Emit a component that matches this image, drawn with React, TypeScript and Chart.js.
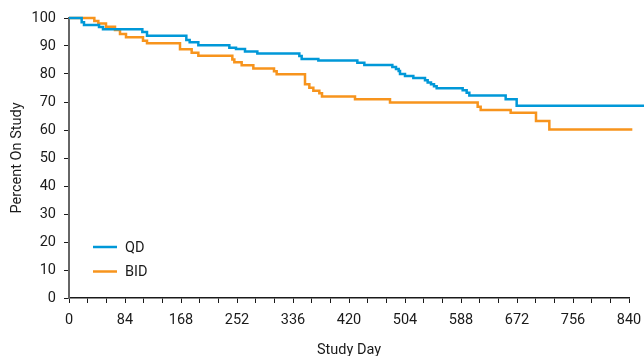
import React, { useEffect, useRef } from "react";
import { Chart, registerables } from "chart.js";

Chart.register(...registerables);

const qdDays = [0, 19, 22.5, 45, 51, 110, 117, 176, 181, 194, 240.5, 250.5, 264, 282.5, 345.5, 349, 374, 432.5, 443, 485, 490.5, 494.5, 496.5, 504, 516.5, 534, 538, 543, 547.5, 551.5, 590.5, 596.5, 600.5, 655, 671.5, 870];
const qdPct = [100, 98.5, 97.5, 96.8, 96, 95, 93.7, 92.1, 91.3, 90.3, 89.4, 88.9, 88, 87.3, 86.4, 85.4, 84.8, 84.0, 83.2, 82.5, 81.8, 81.1, 80, 79.3, 78.6, 77.8, 77, 76.3, 75.6, 74.9, 74.2, 73.3, 72.3, 71.0, 68.7, 68.7];

const bidDays = [0, 38, 44, 55.5, 69, 76.5, 85.5, 111, 117, 166.5, 184, 194, 245, 248, 259, 276.5, 307.5, 311.5, 354, 360.5, 366.5, 375.5, 379.5, 429, 481.5, 613, 617.5, 662.5, 700.5, 720.5, 845];
const bidPct = [100, 98.9, 98, 96.9, 95.7, 94.3, 93.1, 91.9, 91, 88.8, 87.6, 86.5, 85.2, 84.2, 83.1, 82, 81, 79.9, 76.3, 75.1, 74, 73.1, 72.0, 71, 69.8, 68.3, 67.1, 66.2, 63.2, 60.2, 60.2];

const seriesLabels = ["QD", "BID"];
const seriesColors = ["#0098D8", "#F7941D"];
const xTitle = "Study Day";
const yTitle = "Percent On Study";

const FONT = "Roboto, 'Liberation Sans', sans-serif";
const FSIZE = 14.5;
const TEXT = "#1a1a1a";

const legendPlugin = {
  id: "insideLegend",
  afterDatasetsDraw(chart: any) {
    const ctx = chart.ctx;
    const area = chart.chartArea;
    ctx.save();
    ctx.font = `${FSIZE}px ${FONT}`;
    ctx.textBaseline = "middle";
    ctx.textAlign = "left";
    chart.data.datasets.forEach((ds: any, i: number) => {
      const y = area.bottom - 51 + i * 24.5;
      const x0 = area.left + 24;
      ctx.strokeStyle = ds.borderColor;
      ctx.lineWidth = 2.5;
      ctx.beginPath();
      ctx.moveTo(x0, y);
      ctx.lineTo(x0 + 24, y);
      ctx.stroke();
      ctx.fillStyle = TEXT;
      ctx.fillText(ds.label, x0 + 32, y + 1);
    });
    ctx.restore();
  },
};

export default function App() {
  const ref = useRef<HTMLCanvasElement>(null);
  useEffect(() => {
    document.body.style.margin = "0";
    const datasets = [
      { label: seriesLabels[0], data: qdDays.map((d, i) => ({ x: d, y: qdPct[i] })), borderColor: seriesColors[0] },
      { label: seriesLabels[1], data: bidDays.map((d, i) => ({ x: d, y: bidPct[i] })), borderColor: seriesColors[1] },
    ].map((ds) => ({
      ...ds,
      backgroundColor: ds.borderColor,
      borderWidth: 2.5,
      pointRadius: 0,
      stepped: "before" as const,
      fill: false,
      clip: false as any,
    }));
    const chart = new Chart(ref.current!, {
      type: "line",
      data: { datasets },
      plugins: [legendPlugin],
      options: {
        animation: false,
        responsive: false,
        maintainAspectRatio: false,
        layout: { padding: { top: 18, right: 15, left: 0, bottom: 0 } },
        plugins: { legend: { display: false }, tooltip: { enabled: false } },
        scales: {
          x: {
            type: "linear",
            min: 0,
            max: 840,
            afterFit: (s: any) => { s.height = 58; s.paddingRight = 0; s.paddingLeft = 0; },
            ticks: {
              stepSize: 28,
              autoSkip: false,
              maxRotation: 0,
              padding: 9,
              color: TEXT,
              font: { family: FONT, size: FSIZE },
              callback: (v: any) => (Number(v) % 84 === 0 ? String(v) : ""),
            },
            grid: { drawOnChartArea: false, drawTicks: true, tickLength: 5, color: TEXT },
            border: { color: TEXT, width: 1.5 },
            title: { display: true, text: xTitle, color: TEXT, font: { family: FONT, size: FSIZE, lineHeight: 0.75 }, padding: { top: 0, bottom: 0 } },
          },
          y: {
            min: 0,
            max: 100,
            afterFit: (s: any) => { s.width = 69; s.paddingTop = 0; s.paddingBottom = 0; },
            ticks: {
              stepSize: 10,
              padding: 8,
              color: TEXT,
              font: { family: FONT, size: FSIZE },
            },
            grid: { drawOnChartArea: false, drawTicks: true, tickLength: 5, color: TEXT },
            border: { color: "#666666", width: 2 },
            title: { display: true, text: yTitle, color: TEXT, font: { family: FONT, size: FSIZE }, padding: { top: 9, bottom: 0 } },
          },
        },
      },
    });
    return () => chart.destroy();
  }, []);
  return <canvas ref={ref} width={644} height={356} style={{ display: "block" }} />;
}
